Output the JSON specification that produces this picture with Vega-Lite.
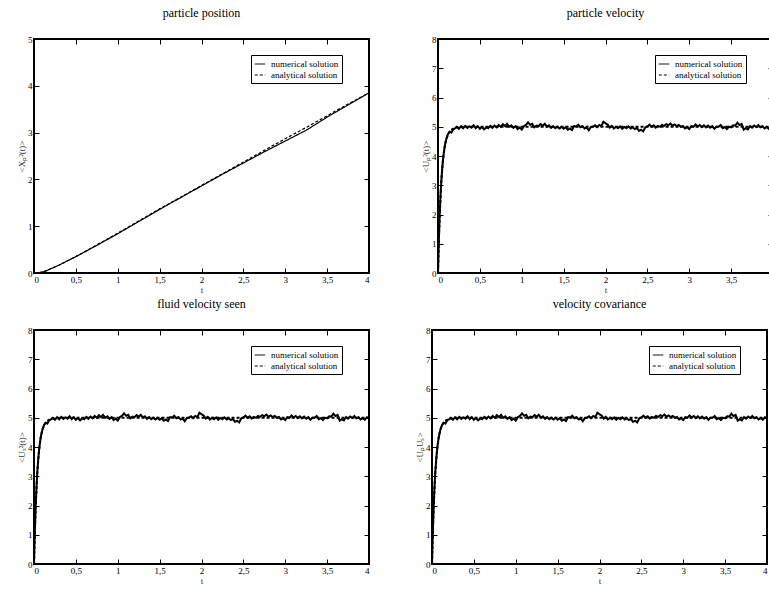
{
"$schema": "https://vega.github.io/schema/vega-lite/v6.json",
"padding": {"left": 16, "top": 6, "right": 0, "bottom": 0},
"datasets": {
"pos": [
{"t":0,"v":0,"s":"analytical solution"},{"t":0.05,"v":0.004,"s":"analytical solution"},{"t":0.1,"v":0.02,"s":"analytical solution"},{"t":0.15,"v":0.05,"s":"analytical solution"},{"t":0.2,"v":0.09,"s":"analytical solution"},{"t":0.3,"v":0.17,"s":"analytical solution"},{"t":0.5,"v":0.35,"s":"analytical solution"},{"t":0.75,"v":0.6,"s":"analytical solution"},{"t":1,"v":0.85,"s":"analytical solution"},{"t":1.25,"v":1.11,"s":"analytical solution"},{"t":1.5,"v":1.37,"s":"analytical solution"},{"t":1.75,"v":1.62,"s":"analytical solution"},{"t":2,"v":1.87,"s":"analytical solution"},{"t":2.25,"v":2.12,"s":"analytical solution"},{"t":2.5,"v":2.37,"s":"analytical solution"},{"t":2.75,"v":2.62,"s":"analytical solution"},{"t":3,"v":2.87,"s":"analytical solution"},{"t":3.25,"v":3.11,"s":"analytical solution"},{"t":3.5,"v":3.36,"s":"analytical solution"},{"t":3.75,"v":3.61,"s":"analytical solution"},{"t":4,"v":3.85,"s":"analytical solution"},
{"t":0,"v":0,"s":"numerical solution"},{"t":0.05,"v":0.003,"s":"numerical solution"},{"t":0.1,"v":0.02,"s":"numerical solution"},{"t":0.15,"v":0.05,"s":"numerical solution"},{"t":0.2,"v":0.09,"s":"numerical solution"},{"t":0.3,"v":0.17,"s":"numerical solution"},{"t":0.5,"v":0.35,"s":"numerical solution"},{"t":0.75,"v":0.59,"s":"numerical solution"},{"t":1,"v":0.84,"s":"numerical solution"},{"t":1.25,"v":1.1,"s":"numerical solution"},{"t":1.5,"v":1.36,"s":"numerical solution"},{"t":1.75,"v":1.61,"s":"numerical solution"},{"t":2,"v":1.86,"s":"numerical solution"},{"t":2.25,"v":2.11,"s":"numerical solution"},{"t":2.5,"v":2.35,"s":"numerical solution"},{"t":2.75,"v":2.59,"s":"numerical solution"},{"t":3,"v":2.82,"s":"numerical solution"},{"t":3.25,"v":3.05,"s":"numerical solution"},{"t":3.5,"v":3.33,"s":"numerical solution"},{"t":3.75,"v":3.59,"s":"numerical solution"},{"t":4,"v":3.85,"s":"numerical solution"}
],
"vel": [
{"t":0,"v":0,"s":"analytical solution"},{"t":0.01,"v":1.11,"s":"analytical solution"},{"t":0.02,"v":1.97,"s":"analytical solution"},{"t":0.04,"v":3.16,"s":"analytical solution"},{"t":0.06,"v":3.88,"s":"analytical solution"},{"t":0.08,"v":4.32,"s":"analytical solution"},{"t":0.1,"v":4.59,"s":"analytical solution"},{"t":0.12,"v":4.75,"s":"analytical solution"},{"t":0.15,"v":4.88,"s":"analytical solution"},{"t":0.2,"v":4.97,"s":"analytical solution"},{"t":0.3,"v":5.0,"s":"analytical solution"},{"t":4,"v":5.0,"s":"analytical solution"},
{"t":0,"v":0,"s":"numerical solution"},{"t":0.005,"v":0.59,"s":"numerical solution"},{"t":0.01,"v":1.1,"s":"numerical solution"},{"t":0.02,"v":1.97,"s":"numerical solution"},{"t":0.03,"v":2.64,"s":"numerical solution"},{"t":0.04,"v":3.16,"s":"numerical solution"},{"t":0.05,"v":3.57,"s":"numerical solution"},{"t":0.06,"v":3.88,"s":"numerical solution"},{"t":0.07,"v":4.13,"s":"numerical solution"},{"t":0.08,"v":4.32,"s":"numerical solution"},{"t":0.09,"v":4.47,"s":"numerical solution"},{"t":0.1,"v":4.59,"s":"numerical solution"},{"t":0.12,"v":4.75,"s":"numerical solution"},{"t":0.14,"v":4.83,"s":"numerical solution"},{"t":0.16,"v":4.8,"s":"numerical solution"},{"t":0.18,"v":4.9,"s":"numerical solution"},{"t":0.2,"v":4.94,"s":"numerical solution"},
{"t":0.225,"v":5.0,"s":"numerical solution"},{"t":0.25,"v":4.93,"s":"numerical solution"},{"t":0.275,"v":5.02,"s":"numerical solution"},{"t":0.3,"v":4.95,"s":"numerical solution"},{"t":0.325,"v":5.03,"s":"numerical solution"},{"t":0.35,"v":4.96,"s":"numerical solution"},{"t":0.375,"v":5.01,"s":"numerical solution"},{"t":0.4,"v":4.97,"s":"numerical solution"},{"t":0.425,"v":5.05,"s":"numerical solution"},{"t":0.45,"v":4.95,"s":"numerical solution"},{"t":0.475,"v":5.02,"s":"numerical solution"},{"t":0.5,"v":4.93,"s":"numerical solution"},{"t":0.525,"v":4.99,"s":"numerical solution"},{"t":0.55,"v":4.91,"s":"numerical solution"},{"t":0.575,"v":4.98,"s":"numerical solution"},{"t":0.6,"v":4.95,"s":"numerical solution"},{"t":0.625,"v":5.03,"s":"numerical solution"},{"t":0.65,"v":4.96,"s":"numerical solution"},{"t":0.675,"v":5.04,"s":"numerical solution"},{"t":0.7,"v":4.98,"s":"numerical solution"},{"t":0.725,"v":5.06,"s":"numerical solution"},{"t":0.75,"v":5.0,"s":"numerical solution"},{"t":0.775,"v":5.09,"s":"numerical solution"},{"t":0.8,"v":5.02,"s":"numerical solution"},{"t":0.825,"v":5.1,"s":"numerical solution"},{"t":0.85,"v":5.0,"s":"numerical solution"},{"t":0.875,"v":5.05,"s":"numerical solution"},{"t":0.9,"v":4.96,"s":"numerical solution"},{"t":0.925,"v":5.02,"s":"numerical solution"},{"t":0.95,"v":4.92,"s":"numerical solution"},{"t":0.975,"v":4.97,"s":"numerical solution"},{"t":1.0,"v":4.9,"s":"numerical solution"},{"t":1.025,"v":5.02,"s":"numerical solution"},{"t":1.05,"v":5.06,"s":"numerical solution"},{"t":1.075,"v":5.15,"s":"numerical solution"},{"t":1.1,"v":5.07,"s":"numerical solution"},{"t":1.125,"v":5.1,"s":"numerical solution"},{"t":1.15,"v":4.98,"s":"numerical solution"},{"t":1.175,"v":5.04,"s":"numerical solution"},{"t":1.2,"v":5.02,"s":"numerical solution"},{"t":1.225,"v":5.09,"s":"numerical solution"},{"t":1.25,"v":5.03,"s":"numerical solution"},{"t":1.275,"v":5.1,"s":"numerical solution"},{"t":1.3,"v":5.01,"s":"numerical solution"},{"t":1.325,"v":5.05,"s":"numerical solution"},{"t":1.35,"v":4.96,"s":"numerical solution"},{"t":1.375,"v":5.02,"s":"numerical solution"},{"t":1.4,"v":4.95,"s":"numerical solution"},{"t":1.425,"v":5.0,"s":"numerical solution"},{"t":1.45,"v":4.94,"s":"numerical solution"},{"t":1.475,"v":5.0,"s":"numerical solution"},{"t":1.5,"v":4.93,"s":"numerical solution"},{"t":1.525,"v":4.98,"s":"numerical solution"},{"t":1.55,"v":4.9,"s":"numerical solution"},{"t":1.575,"v":4.94,"s":"numerical solution"},{"t":1.6,"v":4.89,"s":"numerical solution"},{"t":1.625,"v":5.02,"s":"numerical solution"},{"t":1.65,"v":5.01,"s":"numerical solution"},{"t":1.675,"v":5.07,"s":"numerical solution"},{"t":1.7,"v":4.98,"s":"numerical solution"},{"t":1.725,"v":5.02,"s":"numerical solution"},{"t":1.75,"v":4.94,"s":"numerical solution"},{"t":1.775,"v":4.97,"s":"numerical solution"},{"t":1.8,"v":4.88,"s":"numerical solution"},{"t":1.825,"v":4.99,"s":"numerical solution"},{"t":1.85,"v":5.0,"s":"numerical solution"},{"t":1.875,"v":5.05,"s":"numerical solution"},{"t":1.9,"v":4.99,"s":"numerical solution"},{"t":1.925,"v":5.06,"s":"numerical solution"},{"t":1.95,"v":5.02,"s":"numerical solution"},{"t":1.975,"v":5.17,"s":"numerical solution"},{"t":2.0,"v":5.12,"s":"numerical solution"},{"t":2.025,"v":5.08,"s":"numerical solution"},{"t":2.05,"v":4.97,"s":"numerical solution"},{"t":2.075,"v":5.03,"s":"numerical solution"},{"t":2.1,"v":4.94,"s":"numerical solution"},{"t":2.125,"v":5.0,"s":"numerical solution"},{"t":2.15,"v":4.95,"s":"numerical solution"},{"t":2.175,"v":5.01,"s":"numerical solution"},{"t":2.2,"v":4.93,"s":"numerical solution"},{"t":2.225,"v":4.99,"s":"numerical solution"},{"t":2.25,"v":4.95,"s":"numerical solution"},{"t":2.275,"v":5.01,"s":"numerical solution"},{"t":2.3,"v":4.94,"s":"numerical solution"},{"t":2.325,"v":4.98,"s":"numerical solution"},{"t":2.35,"v":4.92,"s":"numerical solution"},{"t":2.375,"v":4.96,"s":"numerical solution"},{"t":2.4,"v":4.86,"s":"numerical solution"},{"t":2.425,"v":4.9,"s":"numerical solution"},{"t":2.45,"v":4.84,"s":"numerical solution"},{"t":2.475,"v":4.98,"s":"numerical solution"},{"t":2.5,"v":5.01,"s":"numerical solution"},{"t":2.525,"v":5.07,"s":"numerical solution"},{"t":2.55,"v":5.0,"s":"numerical solution"},{"t":2.575,"v":5.05,"s":"numerical solution"},{"t":2.6,"v":4.97,"s":"numerical solution"},{"t":2.625,"v":5.03,"s":"numerical solution"},{"t":2.65,"v":5.0,"s":"numerical solution"},{"t":2.675,"v":5.06,"s":"numerical solution"},{"t":2.7,"v":5.03,"s":"numerical solution"},{"t":2.725,"v":5.09,"s":"numerical solution"},{"t":2.75,"v":5.05,"s":"numerical solution"},{"t":2.775,"v":5.11,"s":"numerical solution"},{"t":2.8,"v":5.04,"s":"numerical solution"},{"t":2.825,"v":5.08,"s":"numerical solution"},{"t":2.85,"v":5.02,"s":"numerical solution"},{"t":2.875,"v":5.06,"s":"numerical solution"},{"t":2.9,"v":5.0,"s":"numerical solution"},{"t":2.925,"v":5.03,"s":"numerical solution"},{"t":2.95,"v":4.94,"s":"numerical solution"},{"t":2.975,"v":4.98,"s":"numerical solution"},{"t":3.0,"v":4.92,"s":"numerical solution"},{"t":3.025,"v":5.02,"s":"numerical solution"},{"t":3.05,"v":5.0,"s":"numerical solution"},{"t":3.075,"v":5.08,"s":"numerical solution"},{"t":3.1,"v":5.01,"s":"numerical solution"},{"t":3.125,"v":5.06,"s":"numerical solution"},{"t":3.15,"v":4.99,"s":"numerical solution"},{"t":3.175,"v":5.05,"s":"numerical solution"},{"t":3.2,"v":4.98,"s":"numerical solution"},{"t":3.225,"v":5.04,"s":"numerical solution"},{"t":3.25,"v":4.97,"s":"numerical solution"},{"t":3.275,"v":5.02,"s":"numerical solution"},{"t":3.3,"v":4.93,"s":"numerical solution"},{"t":3.325,"v":5.0,"s":"numerical solution"},{"t":3.35,"v":5.0,"s":"numerical solution"},{"t":3.375,"v":5.06,"s":"numerical solution"},{"t":3.4,"v":4.95,"s":"numerical solution"},{"t":3.425,"v":4.99,"s":"numerical solution"},{"t":3.45,"v":4.92,"s":"numerical solution"},{"t":3.475,"v":5.0,"s":"numerical solution"},{"t":3.5,"v":4.98,"s":"numerical solution"},{"t":3.525,"v":5.05,"s":"numerical solution"},{"t":3.55,"v":5.04,"s":"numerical solution"},{"t":3.575,"v":5.14,"s":"numerical solution"},{"t":3.6,"v":5.06,"s":"numerical solution"},{"t":3.625,"v":5.1,"s":"numerical solution"},{"t":3.65,"v":4.9,"s":"numerical solution"},{"t":3.675,"v":4.95,"s":"numerical solution"},{"t":3.7,"v":4.91,"s":"numerical solution"},{"t":3.725,"v":5.02,"s":"numerical solution"},{"t":3.75,"v":4.97,"s":"numerical solution"},{"t":3.775,"v":5.04,"s":"numerical solution"},{"t":3.8,"v":4.99,"s":"numerical solution"},{"t":3.825,"v":5.06,"s":"numerical solution"},{"t":3.85,"v":4.98,"s":"numerical solution"},{"t":3.875,"v":5.02,"s":"numerical solution"},{"t":3.9,"v":4.94,"s":"numerical solution"},{"t":3.925,"v":4.99,"s":"numerical solution"},{"t":3.95,"v":4.93,"s":"numerical solution"},{"t":3.975,"v":5.02,"s":"numerical solution"},{"t":4.0,"v":4.98,"s":"numerical solution"}
]
},
"vconcat": [
{"hconcat": [
{"title": "particle position", "width": 335, "height": 234, "data": {"name": "pos"},
 "layer": [
  {"mark": {"type": "line", "color": "black", "strokeWidth": 1.2},
   "encoding": {
    "x": {"field": "t", "type": "quantitative", "scale": {"domain": [0, 4], "nice": false}, "axis": {"values": [0,0.5,1,1.5,2,2.5,3,3.5,4], "title": "t", "labelExpr": "replace(toString(datum.value), '.', ',')"}},
    "y": {"field": "v", "type": "quantitative", "scale": {"domain": [0, 5], "nice": false}, "axis": {"values": [0,1,2,3,4,5], "title": "<Xₚ²(t)>"}},
    "strokeDash": {"field": "s", "type": "nominal", "scale": {"domain": ["numerical solution", "analytical solution"], "range": [[1,0],[3,2]]}, "legend": {"orient": "none", "legendX": 217, "legendY": 16}}
   }},
  {"mark": {"type": "line", "opacity": 0},
   "encoding": {
    "x": {"field": "t", "type": "quantitative", "axis": {"orient": "top", "values": [0,0.5,1,1.5,2,2.5,3,3.5,4], "labels": false, "title": null}},
    "y": {"field": "v", "type": "quantitative", "axis": {"orient": "right", "values": [0,1,2,3,4,5], "labels": false, "title": null}}
   }}
 ],
 "resolve": {"axis": {"x": "independent", "y": "independent"}}
},
{"title": "particle velocity", "width": 335, "height": 234, "data": {"name": "vel"},
 "layer": [
  {"mark": {"type": "line", "color": "black", "strokeWidth": 2},
   "encoding": {
    "x": {"field": "t", "type": "quantitative", "scale": {"domain": [0, 4], "nice": false}, "axis": {"values": [0,0.5,1,1.5,2,2.5,3,3.5], "title": "t", "labelExpr": "replace(toString(datum.value), '.', ',')"}},
    "y": {"field": "v", "type": "quantitative", "scale": {"domain": [0, 8], "nice": false}, "axis": {"values": [0,1,2,3,4,5,6,7,8], "title": "<Uₚ²(t)>"}},
    "strokeDash": {"field": "s", "type": "nominal", "scale": {"domain": ["numerical solution", "analytical solution"], "range": [[1,0],[3,2]]}, "legend": {"orient": "none", "legendX": 217, "legendY": 16}}
   }},
  {"mark": {"type": "line", "opacity": 0},
   "encoding": {
    "x": {"field": "t", "type": "quantitative", "axis": {"orient": "top", "values": [0,0.5,1,1.5,2,2.5,3,3.5], "labels": false, "title": null}},
    "y": {"field": "v", "type": "quantitative", "axis": {"orient": "right", "values": [0,1,2,3,4,5,6,7,8], "labels": false, "title": null}}
   }}
 ],
 "resolve": {"axis": {"x": "independent", "y": "independent"}}
}
], "spacing": 47, "resolve": {"scale": {"strokeDash": "independent"}, "legend": {"strokeDash": "independent"}}},
{"hconcat": [
{"title": "fluid velocity seen", "width": 335, "height": 234, "data": {"name": "vel"},
 "layer": [
  {"mark": {"type": "line", "color": "black", "strokeWidth": 2},
   "encoding": {
    "x": {"field": "t", "type": "quantitative", "scale": {"domain": [0, 4], "nice": false}, "axis": {"values": [0,0.5,1,1.5,2,2.5,3,3.5,4], "title": "t", "labelExpr": "replace(toString(datum.value), '.', ',')"}},
    "y": {"field": "v", "type": "quantitative", "scale": {"domain": [0, 8], "nice": false}, "axis": {"values": [0,1,2,3,4,5,6,7,8], "title": "<Uₛ²(t)>"}},
    "strokeDash": {"field": "s", "type": "nominal", "scale": {"domain": ["numerical solution", "analytical solution"], "range": [[1,0],[3,2]]}, "legend": {"orient": "none", "legendX": 217, "legendY": 16}}
   }},
  {"mark": {"type": "line", "opacity": 0},
   "encoding": {
    "x": {"field": "t", "type": "quantitative", "axis": {"orient": "top", "values": [0,0.5,1,1.5,2,2.5,3,3.5,4], "labels": false, "title": null}},
    "y": {"field": "v", "type": "quantitative", "axis": {"orient": "right", "values": [0,1,2,3,4,5,6,7,8], "labels": false, "title": null}}
   }}
 ],
 "resolve": {"axis": {"x": "independent", "y": "independent"}}
},
{"title": "velocity covariance", "width": 335, "height": 234, "data": {"name": "vel"},
 "layer": [
  {"mark": {"type": "line", "color": "black", "strokeWidth": 2},
   "encoding": {
    "x": {"field": "t", "type": "quantitative", "scale": {"domain": [0, 4], "nice": false}, "axis": {"values": [0,0.5,1,1.5,2,2.5,3,3.5,4], "title": "t", "labelExpr": "replace(toString(datum.value), '.', ',')"}},
    "y": {"field": "v", "type": "quantitative", "scale": {"domain": [0, 8], "nice": false}, "axis": {"values": [0,1,2,3,4,5,6,7,8], "title": "<UₚUₛ>"}},
    "strokeDash": {"field": "s", "type": "nominal", "scale": {"domain": ["numerical solution", "analytical solution"], "range": [[1,0],[3,2]]}, "legend": {"orient": "none", "legendX": 217, "legendY": 16}}
   }},
  {"mark": {"type": "line", "opacity": 0},
   "encoding": {
    "x": {"field": "t", "type": "quantitative", "axis": {"orient": "top", "values": [0,0.5,1,1.5,2,2.5,3,3.5,4], "labels": false, "title": null}},
    "y": {"field": "v", "type": "quantitative", "axis": {"orient": "right", "values": [0,1,2,3,4,5,6,7,8], "labels": false, "title": null}}
   }}
 ],
 "resolve": {"axis": {"x": "independent", "y": "independent"}}
}
], "spacing": 40, "resolve": {"scale": {"strokeDash": "independent"}, "legend": {"strokeDash": "independent"}}}
],
"spacing": 2,
"resolve": {"scale": {"strokeDash": "independent"}, "legend": {"strokeDash": "independent"}},
"config": {
 "font": "Liberation Serif",
 "background": "white",
 "view": {"stroke": "black", "strokeWidth": 2},
 "axis": {"grid": false, "domain": false, "tickColor": "black", "tickSize": -5, "tickWidth": 1, "labelFont": "Liberation Serif", "labelFontSize": 9, "labelColor": "black", "labelPadding": 7, "titleFont": "Liberation Serif", "titleFontSize": 9, "titleFontWeight": "normal", "titleColor": "#333333", "titlePadding": 1},
 "title": {"font": "Liberation Serif", "fontSize": 12, "fontWeight": "normal", "anchor": "middle", "offset": 15, "color": "black"},
 "legend": {"title": null, "strokeColor": "black", "strokeWidth": 1, "fillColor": "white", "padding": 3, "labelFont": "Liberation Serif", "labelFontSize": 9, "labelColor": "black", "symbolType": "stroke", "symbolStrokeColor": "black", "symbolSize": 110, "symbolStrokeWidth": 1, "rowPadding": 0, "labelOffset": 5}
}
}
